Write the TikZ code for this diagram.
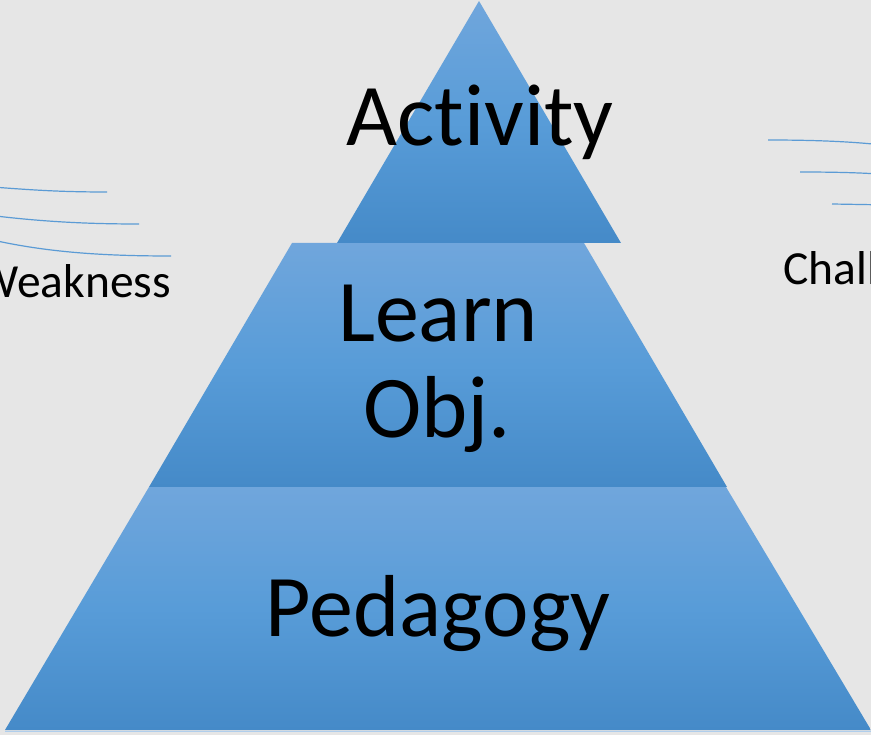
\documentclass[tikz,border=0pt]{standalone}
\usepackage{fontspec}
\setmainfont[Ligatures=NoCommon]{Carlito}
\usepackage{xcolor}

\definecolor{bggray}{RGB}{230,230,230}
\definecolor{bandtop}{RGB}{112,166,220}
\definecolor{bandmid}{RGB}{88,156,216}
\definecolor{bandbot}{RGB}{69,138,200}
\definecolor{windblue}{RGB}{91,155,213}

\tikzset{
    band/.style={top color=bandtop, bottom color=bandbot, middle color=bandmid},
    wind/.style={windblue, line width=1.2pt},
    bigtext/.style={anchor=base, inner sep=0pt, font=\fontsize{88}{96}\selectfont},
    sidetext/.style={inner sep=0pt, font=\fontsize{47.5}{52}\selectfont}
}

\begin{document}
\begin{tikzpicture}[x=1pt,y=-1pt]
                \fill[bggray] (0,0) rectangle (871,735);
                \useasboundingbox (0,0) rectangle (871,735);
                \clip (0,0) rectangle (871,735);

                \shade[band] (5,730) -- (149,487) -- (726,487) -- (871,730) -- cycle;
                \draw[bandtop!55!white, line width=1.5pt] (5,731.5) -- (871,731.5);
                \shade[band] (149,487) -- (292,243) -- (584,243) -- (727,487) -- cycle;
                \shade[band] (337,243) -- (479,1) -- (621,243) -- cycle;

                \node[bigtext] (activity) at (480,146) {Activity};
                \node[bigtext] (learn) at (438,342) {Learn};
                \node[bigtext] (obj) at (437,438) {Obj.};
                \node[bigtext] (pedagogy) at (438,636) {Pedagogy};

                \draw[wind] (-20,186) .. controls (30,190) and (60,192) .. (107,192);
                \draw[wind] (-20,214) .. controls (40,222) and (90,224) .. (139,224);
                \draw[wind] (-20,237) .. controls (40,252) and (100,256) .. (171,256);
                \node[sidetext, anchor=base east] (weakness) at (171,298) {Weakness};

                \draw[wind] (768,140) .. controls (820,140) and (860,142) .. (890,146);
                \draw[wind] (800,172) .. controls (840,172) and (870,173) .. (890,175);
                \draw[wind] (832,204) -- (890,205);
                \node[sidetext, anchor=base west] (chall) at (783,285) {Chall};
\end{tikzpicture}
\end{document}
